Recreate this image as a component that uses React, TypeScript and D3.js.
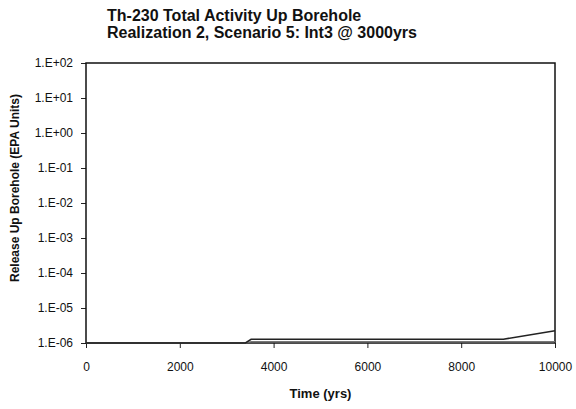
import { useEffect, useRef } from "react";
import * as d3 from "d3";

const titleLines = ["Th-230 Total Activity Up Borehole", "Realization 2, Scenario 5: Int3 @ 3000yrs"];
const yTicks = [1e-6, 1e-5, 1e-4, 1e-3, 1e-2, 1e-1, 1e0, 1e1, 1e2];
const yTickLabels = ["1.E-06", "1.E-05", "1.E-04", "1.E-03", "1.E-02", "1.E-01", "1.E+00", "1.E+01", "1.E+02"];
const xTicks = [0, 2000, 4000, 6000, 8000, 10000];

// two curves
const timeA = [0, 3400, 3520, 8900, 10000];
const releaseA = [1e-6, 1e-6, 1.28e-6, 1.28e-6, 2.25e-6];
const timeB = [0, 3400, 3520, 10000];
const releaseB = [1e-6, 1e-6, 1.1e-6, 1.1e-6];

export default function App() {
  const svgRef = useRef<SVGSVGElement>(null);

  useEffect(() => {
    if (!svgRef.current) return;
    const margin = { top: 63, left: 86, right: 21, bottom: 66 };
    const W = 576, H = 409;
    const width = W - margin.left - margin.right;
    const height = H - margin.top - margin.bottom;
    const svg = d3.select(svgRef.current);
    svg.selectAll("*").remove();
    svg.attr("width", W).attr("height", H);
    const font = "'Liberation Sans', Arial, sans-serif";

    svg.append("rect").attr("width", W).attr("height", H).attr("fill", "#fff");

    svg.selectAll("text.title")
      .data(titleLines)
      .enter()
      .append("text")
      .attr("class", "title")
      .attr("x", 107)
      .attr("y", (_, i) => 21 + i * 17)
      .attr("font-family", font)
      .attr("font-size", 16)
      .attr("font-weight", "bold")
      .attr("fill", "#111")
      .text(d => d);

    const g = svg.append("g").attr("transform", `translate(${margin.left},${margin.top})`);

    const x = d3.scaleLinear().domain([0, 10000]).range([0, width]);
    const y = d3.scaleLog().domain([1e-6, 1e2]).range([height, 0]);

    const gx = g.append("g")
      .attr("transform", `translate(0,${height})`)
      .call(d3.axisBottom(x).tickValues(xTicks).tickSize(5).tickSizeOuter(0).tickPadding(14).tickFormat(d => String(d)));
    gx.select("path").remove();
    gx.selectAll("line").attr("stroke", "#222");
    gx.selectAll("text")
      .attr("font-family", font)
      .attr("font-size", 12)
      .attr("fill", "#111");

    const gy = g.append("g")
      .call(d3.axisLeft(y).tickValues(yTicks).tickSize(5).tickSizeOuter(0).tickPadding(8)
        .tickFormat((_, i) => yTickLabels[i]));
    gy.select("path").remove();
    gy.selectAll("line").attr("stroke", "#222");
    gy.selectAll("text")
      .attr("font-family", font)
      .attr("font-size", 12)
      .attr("fill", "#111");

    // plot frame
    g.append("rect")
      .attr("width", width)
      .attr("height", height)
      .attr("fill", "none")
      .attr("stroke", "#111")
      .attr("stroke-width", 1.5);

    const series = [
      { t: timeB, v: releaseB, color: "#777", w: 1.2 },
      { t: timeA, v: releaseA, color: "#222", w: 1.6 },
    ];
    series.forEach(s => {
      const pts: [number, number][] = s.t.map((t, i) => [x(t), y(s.v[i])]);
      g.append("path")
        .attr("d", d3.line()(pts))
        .attr("fill", "none")
        .attr("stroke", s.color)
        .attr("stroke-width", s.w);
    });

    g.append("text")
      .attr("x", width / 2)
      .attr("y", height + 55)
      .attr("text-anchor", "middle")
      .attr("font-family", font)
      .attr("font-size", 13)
      .attr("font-weight", "bold")
      .attr("fill", "#111")
      .text("Time (yrs)");

    svg.append("text")
      .attr("transform", `translate(19,188) rotate(-90)`)
      .attr("text-anchor", "middle")
      .attr("font-family", font)
      .attr("font-size", 12)
      .attr("font-weight", "bold")
      .attr("fill", "#111")
      .text("Release Up Borehole (EPA Units)");
  }, []);

  return (
    <div style={{ position: "absolute", left: 0, top: 0 }}>
      <svg ref={svgRef} style={{ display: "block" }}></svg>
    </div>
  );
}
